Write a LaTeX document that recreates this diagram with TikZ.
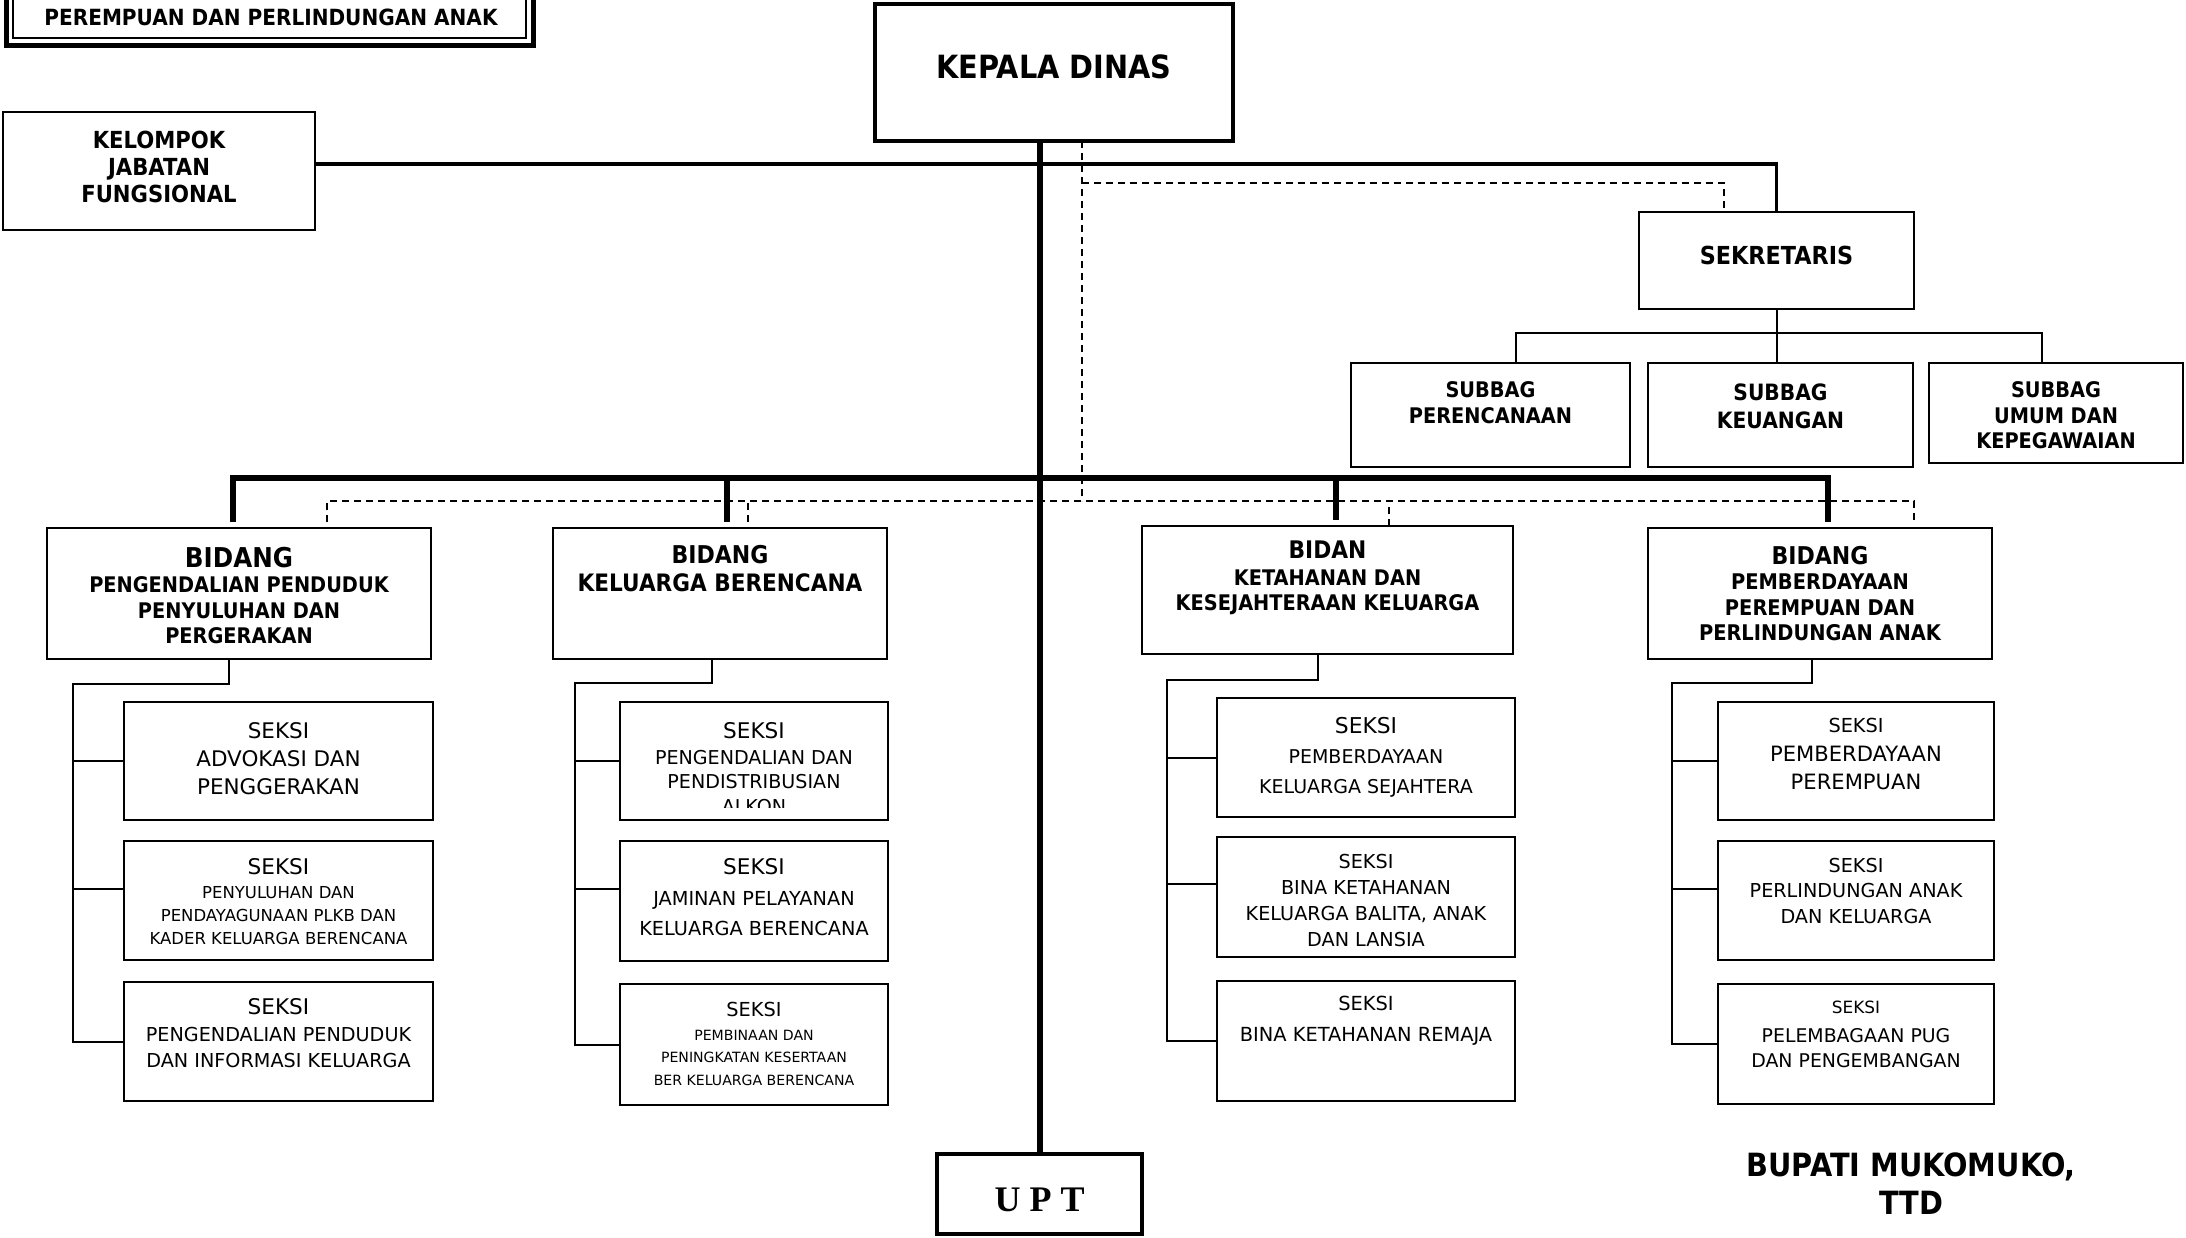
\documentclass[tikz,border=0pt]{standalone}
\usepackage{fontspec}
\setmainfont{DejaVu Sans}
\newfontfamily\tebal{DejaVu Sans}[FakeStretch=0.9]
\newfontfamily\hurufserif{Liberation Serif}
\usetikzlibrary{calc}
\newcommand{\ukb}[2]{\tebal\bfseries\fontsize{#1pt}{#2pt}\selectfont}
\newcommand{\ukn}[2]{\fontsize{#1pt}{#2pt}\selectfont}

\tikzset{
  kotak/.style={draw, line width=2pt, inner sep=0pt, outer sep=0pt},
  teks/.style={align=center, inner sep=0pt},
  garis/.style={line width=2pt},
  garistebal/.style={line width=6pt},
  garisputus/.style={line width=1.8pt, dash pattern=on 7pt off 5pt}
}

\begin{document}
\begin{tikzpicture}[x=1pt, y=-1pt]
    \useasboundingbox (0,0) rectangle (2186,1237);

    % Judul
    \draw[line width=5pt] (6,-20) rectangle (533,45);
    \draw[line width=1.5pt] (13,-20) rectangle (526,38);
    \node[teks, font=\ukb{22.3}{26}] (judul) at (271,17) {PEREMPUAN DAN PERLINDUNGAN ANAK};

    % Kepala Dinas
    \node[kotak, line width=4pt, minimum width=358pt, minimum height=137pt] (kepala) at (1054,72.5) {};
    \node[teks, font=\ukb{32}{38}, yshift=5.5pt] (kepalateks) at (kepala) {KEPALA DINAS};

    % Kelompok Jabatan Fungsional
    \node[kotak, minimum width=312pt, minimum height=118pt] (kjf) at (159,171) {};
    \node[teks, font=\ukb{23.5}{27}, yshift=4pt] (kjfteks) at (kjf) {KELOMPOK\\JABATAN\\FUNGSIONAL};

    % Sekretaris
    \node[kotak, minimum width=275pt, minimum height=97pt] (sekr) at (1776.5,260.5) {};
    \node[teks, font=\ukb{24.8}{30}, yshift=5.5pt] (sekrteks) at (sekr) {SEKRETARIS};

    % Subbag
    \node[kotak, minimum width=279pt, minimum height=104pt] (sbren) at (1490.5,415) {};
    \node[teks, font=\ukb{21.5}{26}, yshift=12pt] (sbrenteks) at (sbren) {SUBBAG\\PERENCANAAN};
    \node[kotak, minimum width=265pt, minimum height=104pt] (sbkeu) at (1780.5,415) {};
    \node[teks, font=\ukb{22.5}{28}, yshift=9pt] (sbkeuteks) at (sbkeu) {SUBBAG\\KEUANGAN};
    \node[kotak, minimum width=254pt, minimum height=100pt] (sbumum) at (2056,413) {};
    \node[teks, font=\ukb{21.5}{25.5}, yshift=-2.5pt] (sbumumteks) at (sbumum) {SUBBAG\\UMUM DAN\\KEPEGAWAIAN};

    % Bidang
    \node[kotak, minimum width=384pt, minimum height=131pt] (bdal) at (239,593.5) {};
    \node[teks, font=\ukb{21.5}{25.5}, yshift=-2pt] (bdalteks) at (bdal) {{\ukb{27.3}{25.5}BIDANG}\\PENGENDALIAN PENDUDUK\\PENYULUHAN DAN\\PERGERAKAN};
    \node[kotak, minimum width=334pt, minimum height=131pt] (bkb) at (720,593.5) {};
    \node[teks, font=\ukb{24}{28}, yshift=24.5pt] (bkbteks) at (bkb) {{\ukb{24.5}{28}BIDANG}\\KELUARGA BERENCANA};
    \node[kotak, minimum width=371pt, minimum height=128pt] (bks) at (1327.5,590) {};
    \node[teks, font=\ukb{21.5}{25}, yshift=12.5pt] (bksteks) at (bks) {{\ukb{24.2}{25}BIDAN}\\[2pt]KETAHANAN DAN\\KESEJAHTERAAN KELUARGA};
    \node[kotak, minimum width=344pt, minimum height=131pt] (bpp) at (1820,593.5) {};
    \node[teks, font=\ukb{21.6}{25.5}] (bppteks) at (bpp) {{\ukb{24.5}{25.5}BIDANG}\\PEMBERDAYAAN\\PEREMPUAN DAN\\PERLINDUNGAN ANAK};

    % Seksi bidang pengendalian penduduk
    \node[kotak, minimum width=309pt, minimum height=118pt] (bdal1) at (278.5,761) {};
    \node[teks, font=\ukn{21.5}{28}, yshift=2pt] (bdal1teks) at (bdal1) {SEKSI\\ADVOKASI DAN\\PENGGERAKAN};
    \node[kotak, minimum width=309pt, minimum height=119pt] (bdal2) at (278.5,900.5) {};
    \node[teks, font=\ukn{16.5}{22.6}, yshift=-1pt] (bdal2teks) at (bdal2) {{\ukn{21.6}{22.6}SEKSI}\\[1.6pt]PENYULUHAN DAN\\PENDAYAGUNAAN PLKB DAN\\KADER KELUARGA BERENCANA};
    \node[kotak, minimum width=309pt, minimum height=119pt] (bdal3) at (278.5,1041.5) {};
    \node[teks, font=\ukn{19.2}{26}, yshift=8pt] (bdal3teks) at (bdal3) {{\ukn{21.6}{26}SEKSI}\\[1.2pt]PENGENDALIAN PENDUDUK\\DAN INFORMASI KELUARGA};

    % Seksi bidang keluarga berencana
    \node[kotak, minimum width=268pt, minimum height=118pt] (bkb1) at (754,761) {};
    \begin{scope}
        \clip (bkb1.north west) rectangle ([yshift=13pt]bkb1.south east);
        \node[teks, font=\ukn{19.1}{24.5}, yshift=-7pt] (bkb1teks) at (bkb1) {{\ukn{21.6}{24.5}SEKSI}\\[1.6pt]PENGENDALIAN DAN\\PENDISTRIBUSIAN\\ALKON};
    \end{scope}
    \node[kotak, minimum width=268pt, minimum height=120pt] (bkb2) at (754,901) {};
    \node[teks, font=\ukn{19.3}{30.5}, yshift=3.5pt] (bkb2teks) at (bkb2) {{\ukn{21.6}{30.5}SEKSI}\\JAMINAN PELAYANAN\\KELUARGA BERENCANA};
    \node[kotak, minimum width=268pt, minimum height=121pt] (bkb3) at (754,1044.5) {};
    \node[teks, font=\ukn{14.1}{22.5}, yshift=1pt] (bkb3teks) at (bkb3) {{\ukn{19.3}{22.5}SEKSI}\\[1.6pt]PEMBINAAN DAN\\PENINGKATAN KESERTAAN\\BER KELUARGA BERENCANA};

    % Seksi bidang ketahanan dan kesejahteraan keluarga
    \node[kotak, minimum width=298pt, minimum height=119pt] (bks1) at (1366,757.5) {};
    \node[teks, font=\ukn{19}{30}] (bks1teks) at (bks1) {{\ukn{21.8}{30}SEKSI}\\PEMBERDAYAAN\\KELUARGA SEJAHTERA};
    \node[kotak, minimum width=298pt, minimum height=120pt] (bks2) at (1366,897) {};
    \node[teks, font=\ukn{19.2}{26}, yshift=-3pt] (bks2teks) at (bks2) {SEKSI\\BINA KETAHANAN\\KELUARGA BALITA, ANAK\\DAN LANSIA};
    \node[kotak, minimum width=298pt, minimum height=120pt] (bks3) at (1366,1041) {};
    \node[teks, font=\ukn{19.4}{31}, yshift=20.5pt] (bks3teks) at (bks3) {SEKSI\\BINA KETAHANAN REMAJA};

    % Seksi bidang pemberdayaan perempuan
    \node[kotak, minimum width=276pt, minimum height=118pt] (bpp1) at (1856,761) {};
    \node[teks, font=\ukn{21.1}{28.5}, yshift=7pt] (bpp1teks) at (bpp1) {{\ukn{19.3}{28.5}SEKSI}\\PEMBERDAYAAN\\PEREMPUAN};
    \node[kotak, minimum width=276pt, minimum height=119pt] (bpp2) at (1856,900.5) {};
    \node[teks, font=\ukn{19.2}{25.5}, yshift=10pt] (bpp2teks) at (bpp2) {SEKSI\\PERLINDUNGAN ANAK\\DAN KELUARGA};
    \node[kotak, minimum width=276pt, minimum height=120pt] (bpp3) at (1856,1044) {};
    \node[teks, font=\ukn{18.9}{25}, yshift=9.5pt] (bpp3teks) at (bpp3) {{\ukn{16.9}{25}SEKSI}\\[4.5pt]PELEMBAGAAN PUG\\DAN PENGEMBANGAN};

    % UPT
    \node[kotak, line width=3.5pt, minimum width=205pt, minimum height=80pt] (upt) at (1039.5,1194) {};
    \node[teks, font=\hurufserif\bfseries\fontsize{36pt}{40pt}\selectfont, yshift=-6pt] (uptteks) at (upt) {U P T};

    % Pengesahan
    \node[teks, font=\ukb{32}{38}] (bupati) at (1911,1184) {BUPATI MUKOMUKO,\\TTD};

    % Garis komando
    \draw[garistebal] (kepala.south -| upt.north) -- (upt.north);
    \draw[line width=3.3pt] ([yshift=7pt]kjf.east) -| (sekr.north);

    % Sekretaris ke subbag
    \coordinate (sbus) at ([yshift=-24pt]sekr.south);
    \draw[garis] (sekr.south) -- (sekr.south |- sbkeu.north);
    \draw[garis] ([xshift=25pt]sbren.north) |- (sbus) -| ([xshift=-14pt]sbumum.north);

    % Kepala ke bidang
    \coordinate (bbus) at (1039,478);
    \coordinate (bkbatas) at ([xshift=7pt,yshift=6pt]bkb.north);
    \coordinate (bksatas) at ([xshift=8.5pt,yshift=6pt]bks.north);
    \draw[garistebal] ([xshift=-6pt,yshift=6pt]bdal.north) |- (bbus) -| ([xshift=8pt,yshift=6pt]bpp.north);
    \draw[garistebal] (bkbatas) -- (bkbatas |- bbus);
    \draw[garistebal] (bksatas) -- (bksatas |- bbus);

    % Garis koordinasi
    \coordinate (patas) at ([xshift=28pt]kepala.south);
    \coordinate (pbus) at (1082,501);
    \coordinate (pbelok) at (1082,183);
    \coordinate (psekr) at ([xshift=85pt]sekr.north west);
    \coordinate (pdal) at ([xshift=280pt,yshift=6pt]bdal.north west);
    \coordinate (pkb) at ([xshift=195pt,yshift=6pt]bkb.north west);
    \coordinate (pks) at ([xshift=247pt]bks.north west);
    \coordinate (ppp) at ([xshift=266pt,yshift=6pt]bpp.north west);
    \draw[garisputus] (patas) -- (pbus);
    \draw[garisputus] (pbelok) -| (psekr);
    \draw[garisputus] (pdal) |- (pbus) -| (ppp);
    \draw[garisputus] (pkb) -- (pkb |- pbus);
    \draw[garisputus] (pks) -- (pks |- pbus);

    % Bidang ke seksi
    \coordinate (sdal) at ([xshift=-51pt]bdal3.west);
    \draw[garis] ([xshift=-10pt]bdal.south) -- ++(0,25) -| (sdal) -- (bdal3.west);
    \draw[garis] (bdal1.west) -- ++(-51,0);
    \draw[garis] ([yshift=12pt]bdal2.west) -- ++(-51,0);

    \coordinate (skb) at ([xshift=-45pt]bkb3.west);
    \draw[garis] ([xshift=-8pt]bkb.south) -- ++(0,24) -| (skb) -- (bkb3.west);
    \draw[garis] (bkb1.west) -- ++(-45,0);
    \draw[garis] ([yshift=12pt]bkb2.west) -- ++(-45,0);

    \coordinate (sks) at ([xshift=-50pt]bks3.west);
    \draw[garis] ([xshift=-9.5pt]bks.south) -- ++(0,26) -| (sks) -- (bks3.west);
    \draw[garis] (bks1.west) -- ++(-50,0);
    \draw[garis] ([yshift=13pt]bks2.west) -- ++(-50,0);

    \coordinate (spp) at ([xshift=-46pt]bpp3.west);
    \draw[garis] ([xshift=-8pt]bpp.south) -- ++(0,24) -| (spp) -- (bpp3.west);
    \draw[garis] (bpp1.west) -- ++(-46,0);
    \draw[garis] ([yshift=12pt]bpp2.west) -- ++(-46,0);
\end{tikzpicture}
\end{document}
